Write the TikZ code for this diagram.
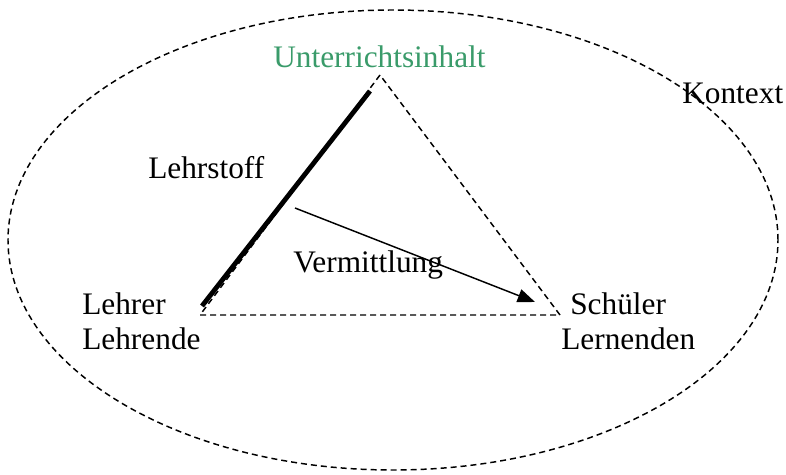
\documentclass[tikz,border=0pt]{standalone}
\usepackage{fontspec}
\setmainfont{Liberation Serif}
\usepackage{tikz}
\usetikzlibrary{arrows.meta,shapes.geometric}
\definecolor{inhaltgreen}{RGB}{58,155,106}

\begin{document}
\begin{tikzpicture}[
  x=0.75pt,y=-0.75pt,
  >={Triangle[length=13pt,width=10pt]},
  font=\fontsize{23.5}{26.3}\selectfont,
  lbl/.style={inner sep=0pt,align=left},
  dashline/.style={dash pattern=on 4.5pt off 3pt,line width=1.1pt},
  thickedge/.style={line width=3.6pt},
  arr/.style={->,line width=1.1pt}
]
  \useasboundingbox (0,0) rectangle (786,475);

  % Kontext
  \node[draw,dashline,ellipse,minimum width=577.5pt,minimum height=345pt,inner sep=0pt] (ctx) at (393,240) {};
  \node[lbl,anchor=base west] (kontext) at (682,103) {Kontext};

  % Dreieck
  \coordinate (top) at (380,75);
  \coordinate (lehrer) at (200,315);
  \coordinate (schueler) at (560,315);
  \draw[dashline] (top) -- (lehrer) -- (schueler) -- cycle;

  \coordinate (ls1) at (202,306);
  \coordinate (ls2) at (370,91);
  \draw[thickedge] (ls1) -- (ls2);

  \coordinate (v1) at (295,208);
  \coordinate (v2) at (535,302);
  \draw[arr] (v1) -- (v2);

  \node[lbl,anchor=base west,text=inhaltgreen] (inhalt) at (273,67) {Unterrichtsinhalt};
  \node[lbl,anchor=base west] (lehrstoff) at (148,178) {Lehrstoff};
  \node[lbl,anchor=base west] (vermittlung) at (293,272) {Vermittlung};
  \node[lbl,anchor=north west] (lehrerlbl) at (82,292) {Lehrer\\Lehrende};
  \node[lbl,anchor=north west] (schuelerlbl) at (561,292) {\hspace*{6.75pt}Schüler\\Lernenden};
\end{tikzpicture}
\end{document}
